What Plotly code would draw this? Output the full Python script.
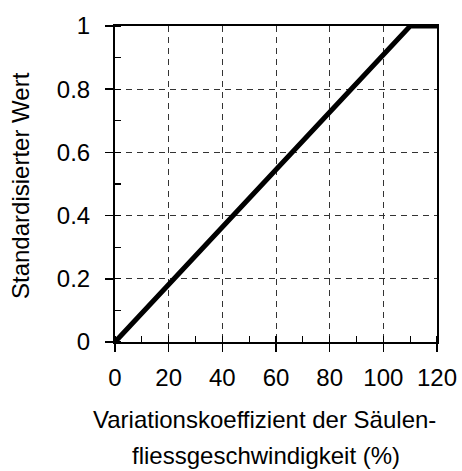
import plotly.graph_objects as go

x_vals = [0, 110, 120]
y_vals = [0, 1, 1]
x_ticks = [0, 20, 40, 60, 80, 100, 120]
y_ticks = [0, 0.2, 0.4, 0.6, 0.8, 1]
y_tick_labels = ["0", "0.2", "0.4", "0.6", "0.8", "1"]
x_title_1 = "Variationskoeffizient der Säulen-"
x_title_2 = "fliessgeschwindigkeit (%)"
y_title = "Standardisierter Wert"

FONT = "Liberation Sans, Arial, sans-serif"
FS = 24

L, R, T, B = 115, 25, 26, 129
W, H = 462, 471
PW, PH = W - L - R, H - T - B


def px_x(px):
    return (px - L) / PW


def px_y(py):
    return (H - B - py) / PH


fig = go.Figure()
fig.add_trace(go.Scatter(x=x_vals, y=y_vals, mode="lines",
                         line=dict(color="black", width=5),
                         cliponaxis=False, showlegend=False, hoverinfo="skip"))

axis_common = dict(
    showline=True, linecolor="black", linewidth=2, mirror=True,
    ticks="outside", ticklen=8, tickwidth=1.5, tickcolor="black",
    showgrid=True, gridcolor="#333333", gridwidth=1, griddash="6px,5px",
    zeroline=False, tickfont=dict(family=FONT, size=FS, color="black"),
    automargin=False,
)

fig.update_xaxes(range=[0, 120], tickvals=x_ticks, ticklabelstandoff=5,
                 minor=dict(ticks="inside", ticklen=6, dtick=10, tickcolor="black",
                            tickwidth=1.2, showgrid=False),
                 **axis_common)
fig.update_yaxes(range=[0, 1], tickvals=y_ticks, ticktext=y_tick_labels,
                 ticklabelstandoff=10,
                 minor=dict(ticks="inside", ticklen=6, dtick=0.1, tickcolor="black",
                            tickwidth=1.2, showgrid=False),
                 **axis_common)

fig.add_annotation(text=y_title, xref="paper", yref="paper", x=px_x(20), y=px_y(186),
                   xanchor="center", yanchor="middle", textangle=-90, showarrow=False,
                   font=dict(family=FONT, size=FS, color="black"))
fig.add_annotation(text=x_title_1, xref="paper", yref="paper", x=px_x(264), y=px_y(419),
                   xanchor="center", yanchor="middle", showarrow=False,
                   font=dict(family=FONT, size=FS, color="black"))
fig.add_annotation(text=x_title_2, xref="paper", yref="paper", x=px_x(266), y=px_y(455),
                   xanchor="center", yanchor="middle", showarrow=False,
                   font=dict(family=FONT, size=FS, color="black"))

fig.update_layout(
    width=W, height=H,
    margin=dict(l=L, r=R, t=T, b=B),
    plot_bgcolor="white", paper_bgcolor="white",
    font=dict(family=FONT, size=FS, color="black"),
)

fig.write_html("out.html", config={"displayModeBar": False, "staticPlot": True},
               post_script="document.body.style.margin='0';document.body.style.overflow='hidden';")
